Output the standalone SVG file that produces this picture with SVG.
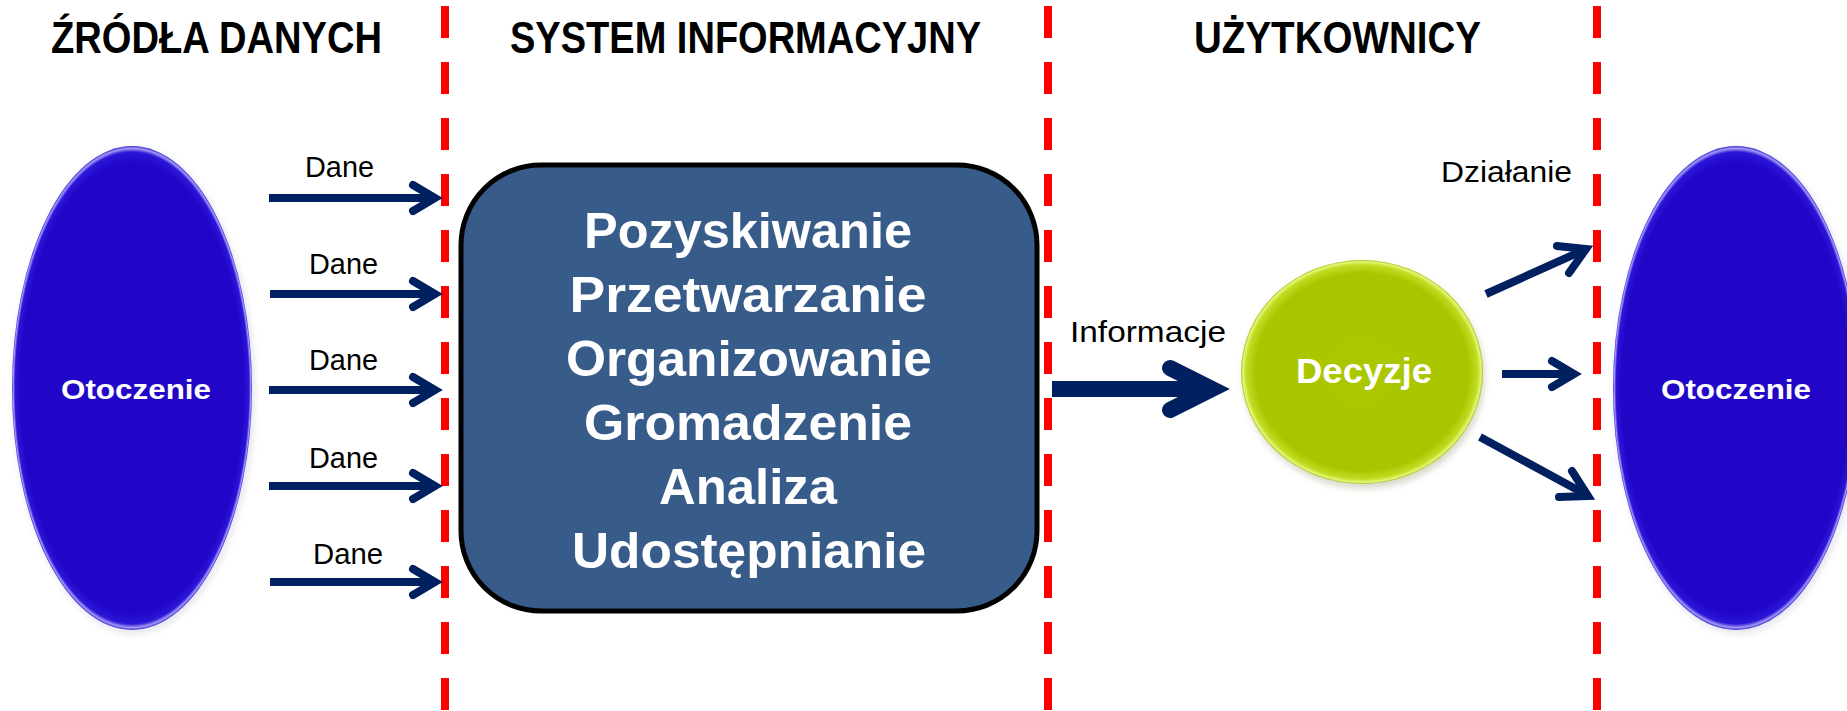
<svg xmlns="http://www.w3.org/2000/svg" width="1847" height="711" viewBox="0 0 1847 711">
<style>
.hdr{font-family:"Liberation Sans",Arial,sans-serif;font-weight:bold;font-size:44px;fill:#000}
.lbl{font-family:"Liberation Sans",Arial,sans-serif;font-size:29px;fill:#000}
.box{font-family:"Liberation Sans",Arial,sans-serif;font-weight:bold;font-size:50px;fill:#fff;text-anchor:middle}
.wt{font-family:"Liberation Sans",Arial,sans-serif;font-weight:bold;fill:#fff;text-anchor:middle}
.sep{stroke:#ff0000;stroke-width:8;stroke-dasharray:32 24;fill:none}
.shaft{stroke:#002060;fill:none;stroke-linecap:butt}
.head{stroke:#002060;fill:none;stroke-linecap:round;stroke-linejoin:miter;stroke-miterlimit:10}
</style>
<defs>
<radialGradient id="gEll" cx="0.5" cy="0.5" r="0.5">
<stop offset="0" stop-color="#2307c9"/>
<stop offset="0.93" stop-color="#2106c8"/>
<stop offset="0.975" stop-color="#2c16d8"/>
<stop offset="0.99" stop-color="#a39af5"/>
<stop offset="1" stop-color="#3a28dc"/>
</radialGradient>
<radialGradient id="gDec" cx="0.5" cy="0.5" r="0.5">
<stop offset="0" stop-color="#abc700"/>
<stop offset="0.88" stop-color="#aac500"/>
<stop offset="0.955" stop-color="#c2db22"/>
<stop offset="0.985" stop-color="#e4f77a"/>
<stop offset="1" stop-color="#a5bd10"/>
</radialGradient>
<filter id="soft" x="-20%" y="-20%" width="140%" height="140%">
<feGaussianBlur stdDeviation="3"/>
</filter>
</defs>
<rect width="1847" height="711" fill="#fff"/>

<g id="separators">
<line class="sep" x1="445" y1="6" x2="445" y2="711"/>
<line class="sep" x1="1048" y1="6" x2="1048" y2="711"/>
<line class="sep" x1="1597" y1="6" x2="1597" y2="711"/>
</g>

<g id="headers">
<text class="hdr" x="51" y="53" textLength="331" lengthAdjust="spacingAndGlyphs">ŹRÓDŁA DANYCH</text>
<text class="hdr" x="510" y="53" textLength="471" lengthAdjust="spacingAndGlyphs">SYSTEM INFORMACYJNY</text>
<text class="hdr" x="1194" y="53" textLength="287" lengthAdjust="spacingAndGlyphs">UŻYTKOWNICY</text>
</g>

<g id="otoczenie-left">
<ellipse cx="134" cy="391" rx="121" ry="243" fill="#b0b0c8" opacity="0.3" filter="url(#soft)"/>
<ellipse cx="132" cy="388" rx="120" ry="242" fill="url(#gEll)"/>
<text class="wt" x="136" y="399" font-size="28" textLength="150" lengthAdjust="spacingAndGlyphs">Otoczenie</text>
</g>

<g id="system">
<rect x="461" y="165" width="576" height="446" rx="80" ry="80" fill="#375c8a" stroke="#000" stroke-width="5"/>
<text class="box" x="748" y="248" textLength="328" lengthAdjust="spacingAndGlyphs">Pozyskiwanie</text>
<text class="box" x="748" y="312" textLength="357" lengthAdjust="spacingAndGlyphs">Przetwarzanie</text>
<text class="box" x="749" y="376" textLength="366" lengthAdjust="spacingAndGlyphs">Organizowanie</text>
<text class="box" x="748" y="440" textLength="328" lengthAdjust="spacingAndGlyphs">Gromadzenie</text>
<text class="box" x="748" y="504" textLength="178" lengthAdjust="spacingAndGlyphs">Analiza</text>
<text class="box" x="749" y="568" textLength="354" lengthAdjust="spacingAndGlyphs">Udostępnianie</text>
</g>

<g id="decyzje">
<ellipse cx="1364" cy="377" rx="121" ry="112" fill="#a0a480" opacity="0.4" filter="url(#soft)"/>
<ellipse cx="1362" cy="372" rx="121" ry="112" fill="url(#gDec)"/>
<text class="wt" x="1364" y="383" font-size="35" textLength="136" lengthAdjust="spacingAndGlyphs">Decyzje</text>
</g>

<g id="otoczenie-right">
<ellipse cx="1738" cy="391" rx="124" ry="243" fill="#b0b0c8" opacity="0.3" filter="url(#soft)"/>
<ellipse cx="1736" cy="388" rx="123" ry="242" fill="url(#gEll)"/>
<text class="wt" x="1736" y="399" font-size="28" textLength="150" lengthAdjust="spacingAndGlyphs">Otoczenie</text>
</g>

<g id="connectors">
<g stroke-width="8">
<line class="shaft" x1="269" y1="198" x2="436" y2="198"/>
<path class="head" d="M413,185 L435,198 L413,211"/>
<line class="shaft" x1="270" y1="294" x2="436" y2="294"/>
<path class="head" d="M413,281 L435,294 L413,307"/>
<line class="shaft" x1="269" y1="390" x2="436" y2="390"/>
<path class="head" d="M413,377 L435,390 L413,403"/>
<line class="shaft" x1="269" y1="486" x2="436" y2="486"/>
<path class="head" d="M413,473 L435,486 L413,499"/>
<line class="shaft" x1="270" y1="582" x2="436" y2="582"/>
<path class="head" d="M413,569 L435,582 L413,595"/>
</g>
<g stroke-width="16">
<line class="shaft" x1="1052" y1="389" x2="1210" y2="389"/>
<path class="head" d="M1170,368 L1212,389 L1170,410"/>
</g>
<g stroke-width="8">
<line class="shaft" x1="1486" y1="294" x2="1584" y2="250"/>
<path class="head" d="M1557,246 L1586,249 L1569,273"/>
<line class="shaft" x1="1502" y1="374" x2="1572" y2="374"/>
<path class="head" d="M1552,361 L1574,374 L1552,387"/>
<line class="shaft" x1="1480" y1="437" x2="1585" y2="494"/>
<path class="head" d="M1572,471 L1588,496 L1559,497"/>
</g>
</g>

<g id="labels">
<text class="lbl" x="305" y="177" textLength="69" lengthAdjust="spacingAndGlyphs">Dane</text>
<text class="lbl" x="309" y="274" textLength="69" lengthAdjust="spacingAndGlyphs">Dane</text>
<text class="lbl" x="309" y="370" textLength="69" lengthAdjust="spacingAndGlyphs">Dane</text>
<text class="lbl" x="309" y="468" textLength="69" lengthAdjust="spacingAndGlyphs">Dane</text>
<text class="lbl" x="313" y="564" textLength="70" lengthAdjust="spacingAndGlyphs">Dane</text>
<text class="lbl" x="1070" y="342" textLength="156" lengthAdjust="spacingAndGlyphs">Informacje</text>
<text class="lbl" x="1441" y="182" textLength="131" lengthAdjust="spacingAndGlyphs">Działanie</text>
</g>
</svg>
